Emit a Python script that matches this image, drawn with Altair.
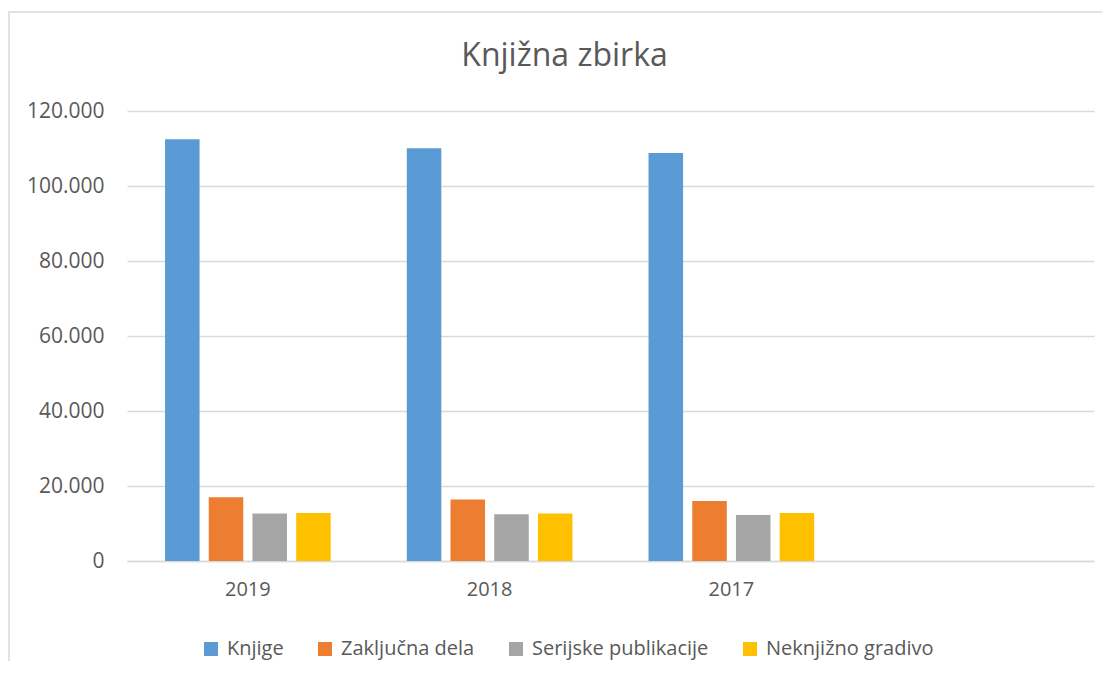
import altair as alt
import pandas as pd

years = ["2019", "2018", "2017"]
x_domain = ["2019", "2018", "2017", " "]
series = ["Knjige", "Zaključna dela", "Serijske publikacije", "Neknjižno gradivo"]
colors = ["#5B9BD5", "#ED7D31", "#A5A5A5", "#FFC000"]

knjige = [112500, 110100, 108800]
zakljucna = [17000, 16400, 16000]
serijske = [12700, 12500, 12300]
neknjizno = [12800, 12700, 12800]

rows = []
for s, vals in zip(series, [knjige, zakljucna, serijske, neknjizno]):
    for y, v in zip(years, vals):
        rows.append({"leto": y, "serija": s, "vrednost": v})
df = pd.DataFrame(rows)

FONT = "Open Sans"
TXT = "#595959"
GRID = "#D9D9D9"

bars = alt.Chart(df).mark_bar().encode(
    x=alt.X("leto:N", scale=alt.Scale(domain=x_domain, paddingInner=0, paddingOuter=0),
            sort=x_domain,
            axis=alt.Axis(title=None, labelAngle=0, ticks=False, domainColor=GRID,
                          domainWidth=1.5, labelFont=FONT, labelFontSize=20,
                          labelColor=TXT, labelPadding=18, grid=False)),
    xOffset=alt.XOffset("serija:N", scale=alt.Scale(domain=series, paddingInner=0.21, paddingOuter=0.87)),
    y=alt.Y("vrednost:Q", scale=alt.Scale(domain=[0, 120000], nice=False),
            axis=alt.Axis(title=None, values=[0, 20000, 40000, 60000, 80000, 100000, 120000],
                          labelExpr="replace(format(datum.value, ','), ',', '.')",
                          domain=False, ticks=False, gridColor=GRID, gridWidth=1.5,
                          labelFont=FONT, labelFontSize=21, labelColor=TXT, labelPadding=23)),
    color=alt.Color("serija:N", scale=alt.Scale(domain=series, range=colors),
                    legend=alt.Legend(title=None, orient="none", legendX=74, legendY=528,
                                      direction="horizontal", symbolType="square",
                                      symbolSize=196, symbolStrokeWidth=0, labelLimit=0,
                                      labelFont=FONT, labelFontSize=20, labelColor=TXT,
                                      columnPadding=31, labelOffset=6, padding=0)),
)

border = alt.Chart(alt.Data(values=[{"a": 1}])).mark_rect(
    fillOpacity=0, stroke=GRID, strokeWidth=1.5
).encode(
    x=alt.value(-118), x2=alt.value(1300), y=alt.value(-99), y2=alt.value(800)
)

chart = alt.layer(border, bars).properties(
    width=967, height=450,
    title=alt.TitleParams("Knjižna zbirka", font=FONT, fontSize=32, fontWeight="normal",
                          color=TXT, anchor="middle", dx=-46, offset=-87,
                          baseline="alphabetic"),
    autosize=alt.AutoSizeParams(type="none"),
    padding={"left": 119, "top": 103, "right": 8, "bottom": 100},
).configure_view(stroke=None)

chart.save("out.html", embed_options={"renderer": "svg", "actions": False})
